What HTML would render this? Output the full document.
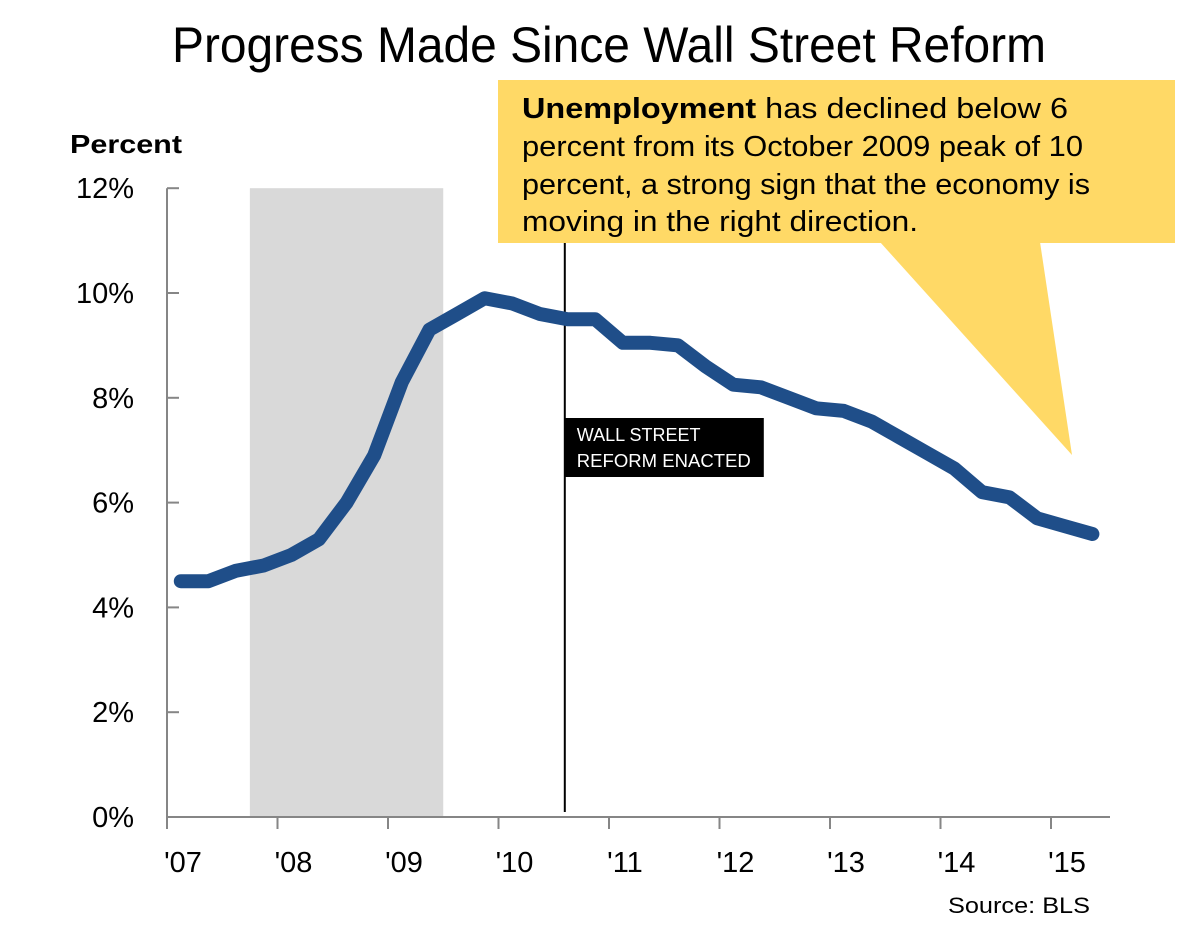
<!DOCTYPE html>
<html><head><meta charset="utf-8"><style>
html,body{margin:0;padding:0;background:#fff;}
svg{display:block;font-family:"Liberation Sans",sans-serif;}
</style></head><body>
<svg id="chart" width="1200" height="927" viewBox="0 0 1200 927">
<text x="172" y="62" font-size="50" textLength="874" lengthAdjust="spacingAndGlyphs">Progress Made Since Wall Street Reform</text>
<text x="70" y="153" font-size="26" font-weight="bold" textLength="112" lengthAdjust="spacingAndGlyphs">Percent</text>
<g id="plot"></g>
<g>
<rect x="498" y="80" width="677" height="163" fill="#FFD966"/>
<polygon points="880,242 1040,242 1072,455" fill="#FFD966"/>
<text font-size="29" fill="#000">
<tspan x="522" y="118" textLength="546" lengthAdjust="spacingAndGlyphs"><tspan font-weight="bold">Unemployment</tspan> has declined below  6</tspan>
<tspan x="522" y="156" textLength="561" lengthAdjust="spacingAndGlyphs">percent from its October 2009 peak of 10</tspan>
<tspan x="522" y="194" textLength="568" lengthAdjust="spacingAndGlyphs">percent, a strong sign that the economy is</tspan>
<tspan x="522" y="231" textLength="396" lengthAdjust="spacingAndGlyphs">moving in the right direction.</tspan>
</text>
</g>
<text x="948" y="913" font-size="22" textLength="142" lengthAdjust="spacingAndGlyphs">Source: BLS</text>
</svg>
<script>
const yearLabels = ["'07","'08","'09","'10","'11","'12","'13","'14","'15"];
const yTicks = [0,2,4,6,8,10,12];
const quarterTimes = [2007.125,2007.375,2007.625,2007.875,2008.125,2008.375,2008.625,2008.875,2009.125,2009.375,2009.625,2009.875,2010.125,2010.375,2010.625,2010.875,2011.125,2011.375,2011.625,2011.875,2012.125,2012.375,2012.625,2012.875,2013.125,2013.375,2013.625,2013.875,2014.125,2014.375,2014.625,2014.875,2015.125,2015.375];
const unemployment = [4.5,4.5,4.7,4.8,5.0,5.3,6.0,6.9,8.3,9.3,9.6,9.9,9.8,9.6,9.5,9.5,9.05,9.05,9.0,8.6,8.25,8.2,8.0,7.8,7.75,7.55,7.25,6.95,6.65,6.2,6.1,5.7,5.55,5.4];
const recession = [2007.75, 2009.5];
const reformDate = 2010.6;

const NS='http://www.w3.org/2000/svg';
const plot=document.getElementById('plot');
const X=t=>167+(t-2007)*110.5;
const Y=v=>817-v*52.4;
function mk(tag,attrs){const e=document.createElementNS(NS,tag);for(const k in attrs)e.setAttribute(k,attrs[k]);plot.appendChild(e);return e;}

let r=mk('rect',{x:X(recession[0]),y:Y(12),width:X(recession[1])-X(recession[0]),height:Y(0)-Y(12),fill:'#D9D9D9'});



let ax=mk('line',{x1:167,y1:Y(12),x2:167,y2:Y(0),stroke:'#868686','stroke-width':2});


let bx=mk('line',{x1:167,y1:Y(0),x2:1110,y2:Y(0),stroke:'#868686','stroke-width':2});



yTicks.forEach(v=>{
  let t=mk('line',{x1:167,y1:Y(v),x2:179,y2:Y(v),stroke:'#868686','stroke-width':2});
  
  
  let l=mk('text',{x:134,y:Y(v)+10,'font-size':29,'text-anchor':'end'});
  l.textContent=v+'%';
  
  
});
yearLabels.forEach((s,i)=>{
  let t=mk('line',{x1:X(2007+i),y1:Y(0),x2:X(2007+i),y2:Y(0)+12,stroke:'#868686','stroke-width':2});
  
  
  let l=mk('text',{x:X(2007+i)+16,y:872,'font-size':29,'text-anchor':'middle'});
  l.textContent=s;
  
  
});

let vl=mk('line',{x1:X(reformDate),y1:Y(12)-45,x2:X(reformDate),y2:Y(0)-5,stroke:'#000','stroke-width':2});


let bb=mk('rect',{x:X(reformDate),y:418,width:199,height:59,fill:'#000'});


let t1=mk('text',{x:X(reformDate)+12,y:441,'font-size':18,fill:'#fff'});t1.textContent='WALL STREET';


let t2=mk('text',{x:X(reformDate)+12,y:467,'font-size':18,fill:'#fff',textLength:174,lengthAdjust:'spacingAndGlyphs'});t2.textContent='REFORM ENACTED';



const pts=quarterTimes.map((t,i)=>X(t).toFixed(1)+','+Y(unemployment[i]).toFixed(1)).join(' ');
let pl=mk('polyline',{points:pts,fill:'none',stroke:'#1F4E89','stroke-width':14,'stroke-linejoin':'round','stroke-linecap':'round'});


</script>
</body></html>
